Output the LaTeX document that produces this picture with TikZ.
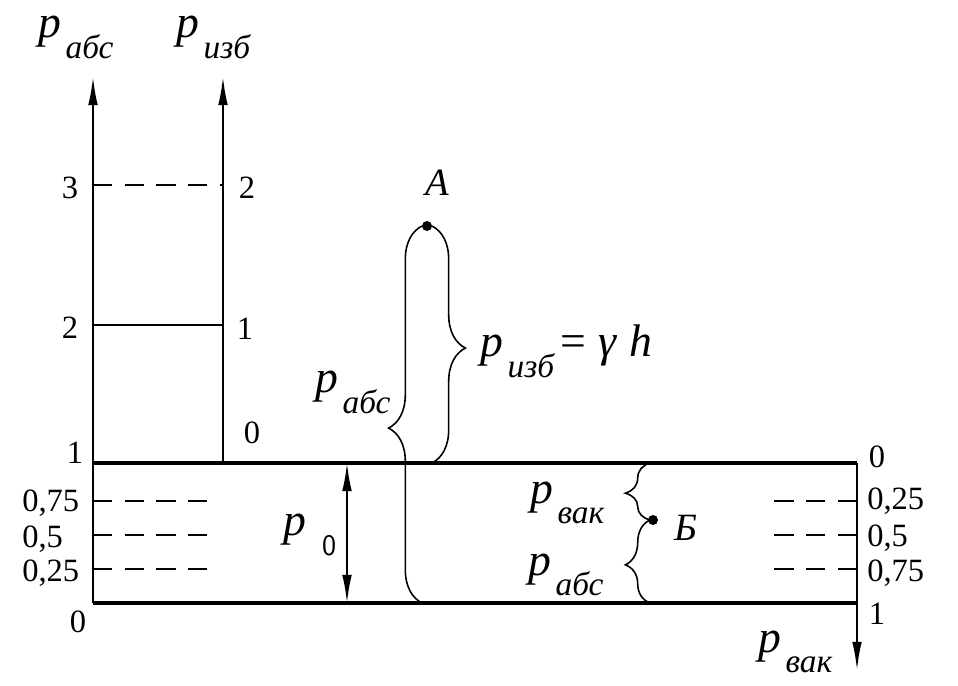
\documentclass[tikz,border=0pt]{standalone}
\usepackage{amsmath}
\usepackage{fontspec}
\setmainfont{Liberation Serif}
\usetikzlibrary{arrows.meta,decorations.pathreplacing}
\newcommand{\psub}[1]{\textit{p}\kern2.5pt\raisebox{-0.45em}{\fontsize{19}{19}\selectfont\textit{#1}}}
\begin{document}
\begin{tikzpicture}[x=0.02cm, y=-0.02cm,
  axis/.style={line width=1.1pt},
  wall/.style={line width=1.8pt},
  tube/.style={line width=0.9pt},
  level/.style={line width=1pt, dash pattern=on 11pt off 7pt},
  tip/.style={-{Latex[length=16pt,width=5.5pt]}},
  num/.style={font=\fontsize{18.5}{18.5}\selectfont, inner sep=0pt, anchor=base},
  numw/.style={num, anchor=base west},
  lbl/.style={font=\fontsize{26}{26}\selectfont, inner sep=0pt, anchor=base west},
  point/.style={font=\fontsize{22}{22}\selectfont\itshape, inner sep=0pt},
  bigbrace/.style={tube, decorate, decoration={brace, amplitude=19pt, aspect=#1}},
  smallbrace/.style={tube, decorate, decoration={brace, amplitude=14pt, aspect=#1}}]
  \useasboundingbox (0,0) rectangle (958,686);
  \coordinate (absbot) at (93,603);
  \coordinate (abstop) at (93,77);
  \coordinate (izbbot) at (223,463);
  \coordinate (izbtop) at (223,77);
  \coordinate (wallL) at (93,463);
  \coordinate (wallR) at (857,463);
  \coordinate (floorR) at (857,603);
  \coordinate (vakbot) at (857,670);
  \coordinate (A) at (427,226);
  \coordinate (B) at (653,520);
  % axes and walls
  \draw[axis, tip] (absbot) -- (abstop);
  \draw[axis, tip] (izbbot) -- (izbtop);
  \draw[axis, tip] (wallR) -- (vakbot);
  \draw[wall] (wallL) -- (wallR);
  \draw[wall] (absbot) -- (floorR);
  \draw[axis] (93,325) -- (223,325);
  \draw[level] (93,185) -- (223,185);
  \foreach \y in {501,535,569} {
    \draw[level] (93,\y) -- (213,\y);
    \draw[level] (857,\y) -- (768,\y);
  }
  % scale on the left
  \node[lbl] (labs) at (38,38) {\psub{абс}};
  \node[lbl] (lizb) at (176,38) {\psub{изб}};
  \node[num] (a3) at (70,199) {3};
  \node[num] (a2) at (70,338) {2};
  \node[num] (a1) at (75,463) {1};
  \node[num] (a0) at (78,632) {0};
  \node[numw] (a075) at (22,511) {0,75};
  \node[numw] (a05) at (22,547) {0,5};
  \node[numw] (a025) at (22,581) {0,25};
  \node[num] (i2) at (247,199) {2};
  \node[num] (i1) at (245,339) {1};
  \node[num] (i0) at (252,443) {0};
  % scale on the right
  \node[num] (v0) at (877,467) {0};
  \node[numw] (v025) at (867,509) {0,25};
  \node[numw] (v05) at (867,546) {0,5};
  \node[numw] (v075) at (867,581) {0,75};
  \node[num] (v1) at (877,624) {1};
  \node[lbl] (lvak) at (758,652) {\psub{вак}};
  % p0
  \draw[axis, {Latex[length=16pt,width=5.5pt]}-{Latex[length=16pt,width=5.5pt]}] (347,463) -- (347,603);
  \node[lbl] (lp0) at (283,535) {\textit{p}\raisebox{-0.44em}{\kern9pt\fontsize{17}{17}\selectfont\sffamily 0}};
  % tube with point A
  \draw[bigbrace=0.464] (422,603) -- (422,226);
  \draw[bigbrace=0.515] (432,226) -- (432,463);
  \fill (A) circle (5);
  \node[point] (lA) at (437,183) {A};
  \node[lbl] (ltabs) at (315,393) {\psub{абс}};
  \node[lbl] (ltizb) at (480,357) {\psub{изб}\kern3pt=\kern7pt\textit{γ}\kern7pt\textit{h}};
  % point B
  \draw[smallbrace=0.47] (650,520) -- (650,463);
  \draw[smallbrace=0.46] (650,603) -- (650,520);
  \fill (B) circle (5);
  \node[point] (lB) at (686,528) {Б};
  \node[lbl] (lbvak) at (530,503) {\psub{вак}};
  \node[lbl] (lbabs) at (528,575) {\psub{абс}};
\end{tikzpicture}
\end{document}
